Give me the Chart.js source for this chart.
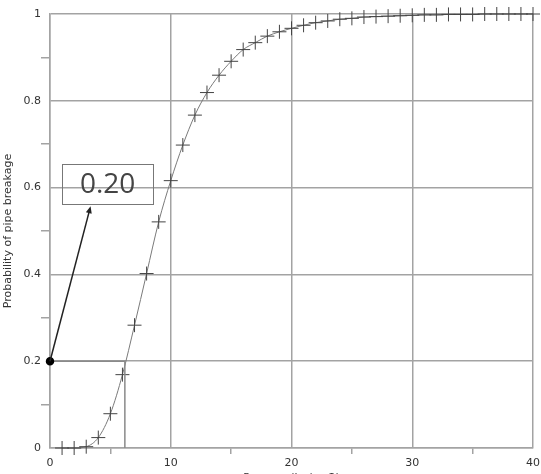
<!DOCTYPE html>
<html>
<head>
<meta charset="utf-8">
<script src="https://cdn.jsdelivr.net/npm/chart.js@4.4.0/dist/chart.umd.min.js"></script>
<style>
  html, body { margin: 0; padding: 0; background: #fff; overflow: hidden; }
  #wrap { width: 541px; height: 486px; position: relative; }
</style>
</head>
<body>
<div id="wrap"><canvas id="pipeChart"></canvas></div>
<script>
// Pressure (kg/cm2) and probability of pipe breakage
const pressures = [1, 2, 3, 4, 5, 6, 7, 8, 9, 10,
    11, 12, 13, 14, 15, 16, 17, 18, 19, 20,
    21, 22, 23, 24, 25, 26, 27, 28, 29, 30,
    31, 32, 33, 34, 35, 36, 37, 38, 39, 40];
const probabilities = [0, 0, 0.003, 0.024, 0.079, 0.169, 0.283, 0.402, 0.521, 0.616,
    0.698, 0.767, 0.819, 0.859, 0.891, 0.918, 0.934, 0.949, 0.959, 0.967,
    0.974, 0.980, 0.984, 0.988, 0.990, 0.993, 0.994, 0.995, 0.996, 0.997,
    0.998, 0.998, 0.999, 0.999, 0.999, 1, 1, 1, 1, 1];

// reading at probability 0.20
const markedProbability = 0.2;
const markedPressure = 6.2;
const calloutText = '0.20';

const curvePoints = pressures.map((p, i) => ({ x: p, y: probabilities[i] }));

// callout box and arrow drawn in data coordinates
const calloutPlugin = {
    id: 'callout',
    afterDatasetsDraw(chart) {
        const { ctx, scales: { x, y } } = chart;
        const bx1 = x.getPixelForValue(1.02), bx2 = x.getPixelForValue(8.53);
        const by1 = y.getPixelForValue(0.654), by2 = y.getPixelForValue(0.561);
        ctx.save();
        ctx.strokeStyle = '#777';
        ctx.lineWidth = 1;
        ctx.strokeRect(Math.round(bx1) + 0.5, Math.round(by1) + 0.5, Math.round(bx2 - bx1), Math.round(by2 - by1));
        ctx.fillStyle = '#444';
        ctx.font = '28px "Open Sans"';
        ctx.textAlign = 'center';
        ctx.textBaseline = 'middle';
        ctx.fillText(calloutText, (bx1 + bx2) / 2, (by1 + by2) / 2 + 1);

        // arrow from the marked point up to the box
        const sx = x.getPixelForValue(0), sy = y.getPixelForValue(markedProbability);
        const ex = x.getPixelForValue(3.36), ey = y.getPixelForValue(0.557);
        const ang = Math.atan2(ey - sy, ex - sx);
        ctx.strokeStyle = '#222';
        ctx.lineWidth = 1.5;
        ctx.beginPath();
        ctx.moveTo(sx, sy);
        ctx.lineTo(ex - 5 * Math.cos(ang), ey - 5 * Math.sin(ang));
        ctx.stroke();
        ctx.fillStyle = '#222';
        ctx.beginPath();
        ctx.moveTo(ex, ey);
        ctx.lineTo(ex - 7 * Math.cos(ang) + 3 * Math.sin(ang), ey - 7 * Math.sin(ang) - 3 * Math.cos(ang));
        ctx.lineTo(ex - 7 * Math.cos(ang) - 3 * Math.sin(ang), ey - 7 * Math.sin(ang) + 3 * Math.cos(ang));
        ctx.closePath();
        ctx.fill();
        ctx.restore();
    }
};

const gridGrey = '#a3a3a3';
const labelFont = { family: 'DejaVu Sans', size: 11 };

new Chart(document.getElementById('pipeChart'), {
    type: 'scatter',
    data: {
        datasets: [
            {
                label: 'marker',
                data: [
                    { x: 0, y: markedProbability },
                    { x: markedPressure, y: markedProbability },
                    { x: markedPressure, y: 0 },
                ],
                showLine: true,
                clip: false,
                borderColor: '#8a8a8a',
                borderWidth: 1.5,
                pointRadius: [3.5, 0, 0],
                pointBackgroundColor: '#000',
                pointBorderColor: '#000',
            },
            {
                label: 'Probability',
                data: curvePoints,
                showLine: true,
                clip: false,
                cubicInterpolationMode: 'monotone',
                borderColor: '#7a7a7a',
                borderWidth: 1,
                pointStyle: 'cross',
                pointRadius: 7,
                pointBorderColor: '#444',
                pointBorderWidth: 1,
            },
        ],
    },
    options: {
        responsive: true,
        maintainAspectRatio: false,
        animation: false,
        layout: { padding: { top: 14, right: 0, left: 0, bottom: 0 } },
        plugins: {
            legend: { display: false },
            tooltip: { enabled: false },
        },
        scales: {
            x: {
                type: 'linear',
                min: 0,
                max: 40,
                afterFit: (scale) => {
                    scale.height = 38;
                    scale.paddingRight = 6;
                    scale.paddingLeft = 0;
                },
                border: { color: gridGrey, width: 1.5 },
                grid: {
                    color: (c) => (c.tick.value % 10 === 0 ? gridGrey : 'rgba(0,0,0,0)'),
                    tickColor: (c) => (c.tick.value % 10 === 0 ? 'rgba(0,0,0,0)' : gridGrey),
                    lineWidth: 1.5,
                    tickLength: 6,
                },
                ticks: {
                    stepSize: 5,
                    padding: 3,
                    color: '#333',
                    font: labelFont,
                    maxRotation: 0,
                    callback: (v) => (v % 10 === 0 ? String(v) : ''),
                },
                title: {
                    display: true,
                    text: 'Pressure(kg/cm2)',
                    color: '#333',
                    font: labelFont,
                    padding: { top: 0, bottom: 1 },
                },
            },
            y: {
                min: 0,
                max: 1,
                afterFit: (scale) => { scale.width = 50; },
                border: { color: gridGrey, width: 1.5 },
                grid: {
                    color: (c) => (Math.round(c.tick.value * 10) % 2 === 0 ? gridGrey : 'rgba(0,0,0,0)'),
                    tickColor: (c) => (Math.round(c.tick.value * 10) % 2 === 0 ? 'rgba(0,0,0,0)' : gridGrey),
                    lineWidth: 1.5,
                    tickLength: 9,
                },
                ticks: {
                    stepSize: 0.1,
                    padding: 0,
                    color: '#333',
                    font: labelFont,
                    callback: (v) => {
                        const t = Math.round(v * 10);
                        return t % 2 === 0 ? String(t / 10) : '';
                    },
                },
                title: {
                    display: true,
                    text: 'Probability of pipe breakage',
                    color: '#333',
                    font: labelFont,
                    padding: { top: 2, bottom: 0 },
                },
            },
        },
    },
    plugins: [calloutPlugin],
});
</script>
</body>
</html>
